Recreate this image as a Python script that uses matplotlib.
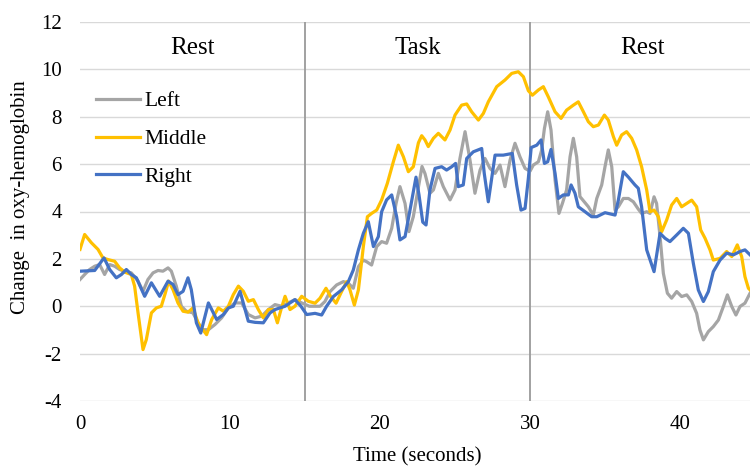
import matplotlib.pyplot as plt

plt.rcParams['font.family'] = ['Liberation Serif', 'DejaVu Serif']
plt.rcParams['axes.unicode_minus'] = False

# Left (gray)
left_t = [0, 0.31, 0.64, 0.98, 1.31, 1.64, 1.98, 2.31, 2.64, 2.98, 3.42, 3.87, 4.2, 4.53, 4.87,
          5.2, 5.53, 5.87, 6.09, 6.42, 6.76, 7.09, 7.53, 7.87, 8.11, 8.56, 9.0, 9.44, 9.89, 10.33,
          10.78, 11.22, 11.67, 12.11, 12.56, 13.0, 13.44, 13.89, 14.33, 14.78, 15.29, 15.67, 16.0,
          16.33, 16.67, 17.11, 17.56, 17.89, 18.22, 18.56, 18.89, 19.11, 19.44, 19.78, 20.11, 20.44,
          20.78, 21.07, 21.33, 21.67, 21.93, 22.22, 22.5, 22.8, 23.0, 23.33, 23.56, 23.89, 24.22,
          24.67, 25.0, 25.33, 25.67, 26.0, 26.33, 26.67, 27.0, 27.33, 27.67, 28.0, 28.33, 28.67,
          29.0, 29.33, 29.67, 30.0, 30.22, 30.56, 30.78, 30.96, 31.18, 31.4, 31.67, 31.93, 32.16,
          32.44, 32.67, 32.89, 33.11, 33.33, 33.62, 33.89, 34.22, 34.45, 34.78, 35.0, 35.22, 35.45,
          35.67, 35.89, 36.22, 36.56, 36.89, 37.22, 37.44, 37.78, 38.0, 38.27, 38.44, 38.67, 38.89,
          39.16, 39.44, 39.78, 40.11, 40.45, 40.78, 41.11, 41.33, 41.56, 41.89, 42.22, 42.56, 42.89,
          43.16, 43.45, 43.73, 44.0, 44.33, 44.67]
left_v = [1.13, 1.34, 1.55, 1.69, 1.76, 1.34, 1.76, 1.69, 1.55, 1.48, 1.41, 1.06, 0.63, 1.13, 1.41,
          1.51, 1.48, 1.62, 1.48, 0.85, 0, -0.21, -0.28, -0.7, -0.99, -0.99, -0.77, -0.49, -0.07, 0.14,
          0.14, -0.35, -0.49, -0.42, -0.14, 0.07, 0, 0.14, 0.28, 0.14, 0, 0, 0,
          0.2, 0.62, 0.9, 1.04, 0.97, 0.76, 1.67, 1.95, 1.88, 1.74, 2.52, 2.73, 2.66,
          3.29, 4.34, 5.05, 4.34, 3.15, 3.78, 4.8, 5.9, 5.6, 4.77, 4.91, 5.61, 5.05,
          4.49, 4.91, 6.24, 7.37, 6.17, 4.77, 5.75, 6.24, 5.82, 5.61, 5.96, 5.05, 6.17,
          6.88, 6.31, 5.82, 5.7, 5.96, 6.1, 6.6, 7.5, 8.21, 7.44, 5.33, 3.92, 4.34,
          4.91, 6.31, 7.09, 6.31, 4.63, 4.41, 4.2, 3.85, 4.55, 5.12, 5.89, 6.6, 5.89,
          4.06, 4.2, 4.55, 4.55, 4.41, 4.1, 3.92, 3.99, 3.92, 4.62, 4.34, 2.94, 1.39,
          0.55, 0.34, 0.62, 0.41, 0.48, 0.2, -0.3, -1.0, -1.42, -1.07, -0.86, -0.58, -0.01,
          0.48, -0.01, -0.37, -0.01, 0.13, 0.55]

# Middle (gold)
middle_t = [0, 0.31, 0.76, 1.2, 1.53, 1.87, 2.31, 2.64, 2.98, 3.42, 3.64, 3.87, 4.2, 4.42, 4.76,
            5.09, 5.42, 5.69, 5.91, 6.2, 6.53, 6.87, 7.2, 7.53, 7.87, 8.11, 8.44, 8.78, 9.22, 9.56,
            9.89, 10.22, 10.56, 10.89, 11.22, 11.56, 11.89, 12.22, 12.56, 12.89, 13.16, 13.4, 13.67,
            14.0, 14.33, 14.78, 15.22, 15.67, 16.0, 16.4, 16.71, 17.07, 17.44, 17.78, 18.0, 18.29,
            18.56, 18.89, 19.16, 19.44, 19.78, 20.11, 20.49, 20.89, 21.22, 21.56, 21.89, 22.22,
            22.56, 22.78, 23.0, 23.22, 23.56, 23.89, 24.33, 24.67, 25.0, 25.44, 25.78, 26.11, 26.56,
            26.89, 27.22, 27.78, 28.33, 28.78, 29.22, 29.56, 29.89, 30.16, 30.56, 30.89, 31.22,
            31.67, 32.07, 32.44, 32.89, 33.22, 33.56, 33.89, 34.22, 34.56, 34.96, 35.22, 35.56,
            35.78, 36.11, 36.44, 36.78, 37.11, 37.44, 37.78, 38.0, 38.27, 38.56, 38.78, 39.11,
            39.44, 39.78, 40.11, 40.45, 40.78, 41.11, 41.38, 41.67, 42.0, 42.22, 42.67, 43.11,
            43.45, 43.82, 44.11, 44.33, 44.56, 44.67]
middle_v = [2.4, 3.03, 2.68, 2.4, 2.04, 1.97, 1.9, 1.62, 1.44, 1.34, 0.85, -0.28, -1.83, -1.41, -0.28,
            -0.07, 0, 0.56, 1.06, 0.7, 0.14, -0.21, -0.25, -0.07, -0.7, -0.92, -1.2, -0.56, -0.07, -0.21,
            0, 0.49, 0.85, 0.63, 0.21, 0.28, -0.14, -0.49, -0.14, -0.14, -0.7, -0.14, 0.42,
            -0.14, 0, 0.42, 0.21, 0.13, 0.34, 0.76, 0.41, 0.13, 0.62, 1.04, 0.69, 0.05,
            0.69, 2.52, 3.78, 3.92, 4.06, 4.49, 5.19, 6.1, 6.8, 6.31, 5.68, 5.89,
            6.9, 7.2, 7.02, 6.74, 7.09, 7.3, 7.02, 7.44, 8.07, 8.49, 8.54, 8.21, 7.86,
            8.14, 8.63, 9.27, 9.55, 9.83, 9.9, 9.69, 9.1, 8.91, 9.13, 9.27, 8.84,
            8.21, 7.93, 8.28, 8.49, 8.63, 8.21, 7.79, 7.58, 7.65, 8.07, 7.86, 7.16,
            6.8, 7.23, 7.37, 7.09, 6.6, 5.89, 4.91, 3.99, 4.06, 3.78, 3.15, 3.64,
            4.27, 4.55, 4.2, 4.34, 4.48, 4.2, 3.22, 2.87, 2.38, 1.95, 2.02, 2.31,
            2.1, 2.59, 2.1, 1.25, 0.76, 0.69]

# Right (blue)
right_t = [0, 0.98, 1.6, 1.98, 2.42, 2.76, 3.09, 3.42, 3.76, 4.31, 4.76, 5.31, 5.87, 6.2, 6.53,
           6.87, 7.2, 7.42, 7.76, 8.05, 8.56, 9.11, 9.56, 9.89, 10.22, 10.67, 11.22, 11.67, 12.22,
           12.67, 13.0, 13.33, 13.67, 14.0, 14.33, 14.73, 15.11, 15.67, 16.11, 16.44, 16.89, 17.44,
           17.89, 18.22, 18.56, 18.89, 19.22, 19.56, 19.89, 20.11, 20.44, 20.78, 21.11, 21.33,
           21.67, 22.0, 22.4, 22.6, 22.85, 23.07, 23.33, 23.67, 24.11, 24.44, 24.78, 25.04, 25.22,
           25.55, 25.78, 26.22, 26.78, 26.95, 27.22, 27.67, 28.22, 28.82, 29.11, 29.4, 29.67,
           29.89, 30.08, 30.45, 30.74, 30.96, 31.18, 31.4, 31.67, 31.89, 32.22, 32.56, 32.74,
           33.0, 33.22, 33.67, 34.11, 34.45, 35.0, 35.67, 35.89, 36.22, 36.56, 37.0, 37.22,
           37.44, 37.78, 38.27, 38.67, 39.0, 39.33, 39.78, 40.22, 40.56, 40.89, 41.22, 41.56,
           41.89, 42.22, 42.67, 43.11, 43.56, 44.0, 44.33, 44.67]
right_v = [1.48, 1.51, 2.04, 1.55, 1.2, 1.34, 1.55, 1.34, 1.2, 0.42, 0.99, 0.42, 1.06, 0.92, 0.49,
           0.63, 1.2, 0.7, -0.7, -1.13, 0.14, -0.56, -0.35, -0.07, 0, 0.63, -0.63, -0.68, -0.7,
           -0.28, -0.14, -0.07, 0, 0.14, 0.28, 0, -0.35, -0.3, -0.37, 0, 0.41, 0.69,
           1.04, 1.53, 2.38, 3.08, 3.57, 2.52, 2.94, 3.99, 4.49, 4.7, 3.78, 2.8,
           2.94, 4.06, 5.45, 4.7, 3.55, 3.43, 4.91, 5.82, 5.89, 5.75, 5.89, 6.03, 5.05,
           5.12, 6.24, 6.52, 6.66, 5.61, 4.41, 6.38, 6.38, 6.45, 5.12, 4.06, 4.13,
           5.4, 6.7, 6.8, 7.02, 6.03, 6.1, 6.62, 5.61, 4.55, 4.7, 4.7, 5.12,
           4.77, 4.2, 3.99, 3.78, 3.78, 3.95, 3.85, 4.48, 5.68, 5.45, 5.12, 4.98,
           4.2, 2.38, 1.46, 3.08, 2.87, 2.73, 3.01, 3.29, 3.08, 1.81, 0.69, 0.2,
           0.62, 1.46, 1.95, 2.24, 2.17, 2.31, 2.38, 2.17]

phases = ["Rest", "Task", "Rest"]
phase_mid = [7.5, 22.5, 37.5]
phase_edges = [15, 30]
yticks = [-4, -2, 0, 2, 4, 6, 8, 10, 12]
xticks = [0, 10, 20, 30, 40]

fig = plt.figure(figsize=(7.5, 4.68), dpi=100)
ax = fig.add_axes([80 / 750, 67 / 468, 675 / 750, 379 / 468])

for y in yticks:
    ax.axhline(y, color="#d9d9d9", lw=1.0, zorder=0)
for x in phase_edges:
    ax.axvline(x, color="#9a9a9a", lw=1.3, zorder=1)

ax.plot(left_t, left_v, color="#a5a5a5", lw=2.3, label="Left", zorder=2)
ax.plot(middle_t, middle_v, color="#ffc000", lw=2.3, label="Middle", zorder=3)
ax.plot(right_t, right_v, color="#4472c4", lw=2.3, label="Right", zorder=4)

for name, xm in zip(phases, phase_mid):
    ax.text(xm, 10.65, name, ha="center", va="baseline", fontsize=18)

ax.set_xlim(0, 45)
ax.set_ylim(-4, 12)
ax.set_xticks(xticks)
ax.set_yticks(yticks)
ax.tick_params(length=0, labelsize=15)
ax.tick_params(axis="x", pad=10)
ax.tick_params(axis="y", pad=13)
for s in ax.spines.values():
    s.set_visible(False)

ax.set_xlabel("Time (seconds)", fontsize=15)
ax.xaxis.set_label_coords(0.5, -0.122)
ax.set_ylabel("Change  in oxy-hemoglobin", fontsize=15)
ax.yaxis.set_label_coords(-0.074, 0.537)

ax.legend(loc="upper left", bbox_to_anchor=(0.0237, 0.817), frameon=False, fontsize=15.5,
          handlelength=2.05, handletextpad=0.2, labelspacing=0.82, borderpad=0, borderaxespad=0)

fig.savefig("out.png", dpi=100)
